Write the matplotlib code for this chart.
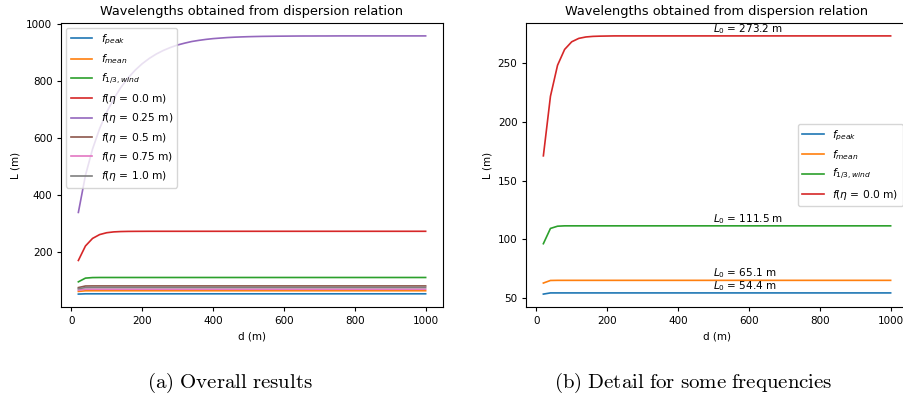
import numpy as np
import matplotlib
matplotlib.use('Agg')
from matplotlib import pyplot as plt

# water depth d (m)
depth = list(range(20, 1001, 20))
n = len(depth)

# wavelengths L (m), start of each curve + plateau value
L_peak = [53.4] + [54.4] * (n - 1)
L_mean = [62.8, 65.0] + [65.1] * (n - 2)
L_wind = [96.3, 109.3, 111.2, 111.5] + [111.5] * (n - 4)
L_eta00 = [171.1, 221.8, 248.2, 261.7, 268.2, 271.1, 272.3, 272.8, 273.0, 273.1] + [273.2] * (n - 10)
L_eta025 = [339.2, 468.9, 561.0, 632.6, 690.2, 737.6, 776.7, 809.5, 836.8, 859.5,
            878.2, 893.7, 906.2, 916.6, 925.2, 931.7, 937.4, 941.4, 944.8, 947.5,
            949.4, 951.2, 952.5, 953.5, 954.3, 954.9, 955.4, 955.7, 956.0, 956.2,
            956.4, 956.6, 956.7, 956.7, 956.8, 956.8, 956.9] + [957.0] * (n - 37)
L_eta05 = [76.2, 81.7] + [82.0] * (n - 2)
L_eta075 = [67.2, 70.4] + [70.5] * (n - 2)
L_eta10 = [72.0, 76.3] + [76.5] * (n - 2)

labels = ['$f_{peak}$', '$f_{mean}$', '$f_{1/3,wind}$',
          r'$f(\eta$ = 0.0 m)', r'$f(\eta$ = 0.25 m)', r'$f(\eta$ = 0.5 m)',
          r'$f(\eta$ = 0.75 m)', r'$f(\eta$ = 1.0 m)']
series = [L_peak, L_mean, L_wind, L_eta00, L_eta025, L_eta05, L_eta075, L_eta10]
L0_labels = [54.4, 65.1, 111.5, 273.2]

fs = 7.5
plt.rcParams['font.size'] = fs
plt.rcParams['xtick.major.size'] = 2.7
plt.rcParams['ytick.major.size'] = 2.7

fig = plt.figure(figsize=(9.04, 3.99), dpi=100)
ax1 = fig.add_axes([61 / 904, 92 / 399, 382 / 904, 284 / 399])
ax2 = fig.add_axes([526 / 904, 92 / 399, 382 / 904, 284 / 399])

for vals, lab in zip(series, labels):
    ax1.plot(depth, vals, label=lab, lw=1.2)
ax1.legend(loc='upper left', fontsize=7.7)

for vals, lab in zip(series[:4], labels[:4]):
    ax2.plot(depth, vals, label=lab, lw=1.2)
for L0 in L0_labels:
    ax2.text(500, L0, '$L_0$ = %.1f m' % L0, fontsize=fs, va='bottom')
ax2.legend(loc='center right', fontsize=7.7)

for ax in [ax1, ax2]:
    ax.set_title('Wavelengths obtained from dispersion relation', fontsize=9.25)
    ax.set_xlabel('d (m)', fontsize=fs)
    ax.set_ylabel('L (m)', fontsize=fs)
    ax.set_xticks([0, 200, 400, 600, 800, 1000])

fig.text(230 / 904, 1 - 383 / 399, r'$\mathrm{(a)\ Overall\ results}$',
         math_fontfamily='cm', fontsize=15, ha='center', va='center')
fig.text(693 / 904, 1 - 383 / 399, r'$\mathrm{(b)\ Detail\ for\ some\ frequencies}$',
         math_fontfamily='cm', fontsize=15, ha='center', va='center')

fig.savefig('out.png', dpi=100)
